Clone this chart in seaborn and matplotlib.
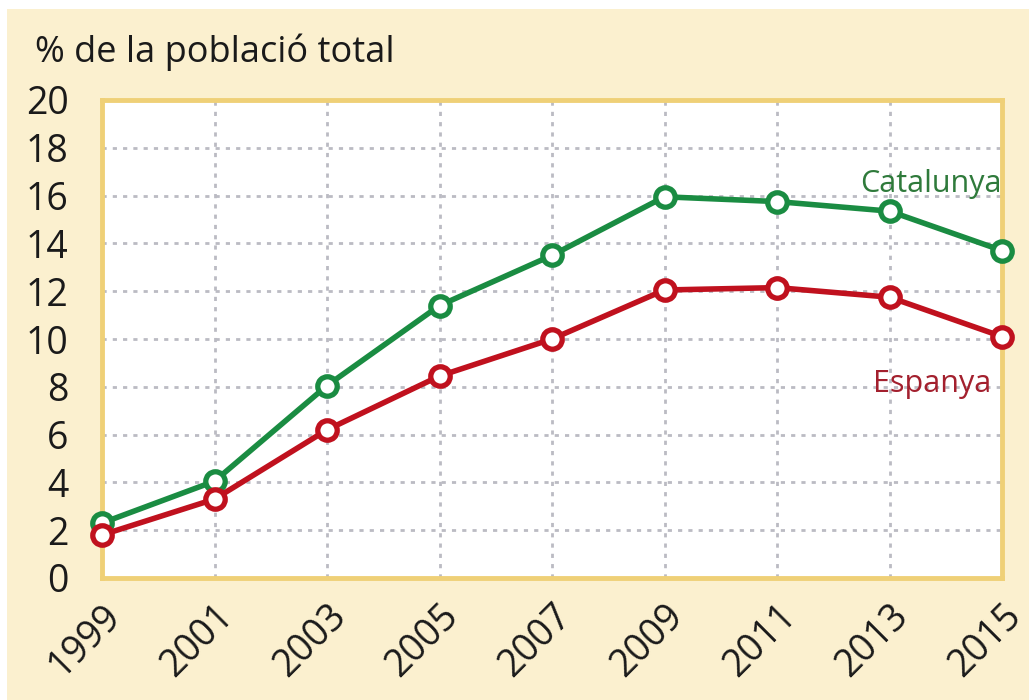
import pandas as pd
import matplotlib.pyplot as plt
import seaborn as sns
from matplotlib.patches import Rectangle

# Data (% de la població total)
years = [1999, 2001, 2003, 2005, 2007, 2009, 2011, 2013, 2015]
catalunya = [2.3, 4.05, 8.05, 11.4, 13.5, 15.95, 15.75, 15.35, 13.7]
espanya = [1.8, 3.3, 6.2, 8.45, 10.0, 12.05, 12.15, 11.75, 10.1]
regions = ["Catalunya", "Espanya"]
yticks = list(range(0, 21, 2))

CREAM = "#FBF0CF"
GOLD = "#EFD077"
GREEN = "#1A8C42"
RED = "#C0111E"

df = pd.DataFrame({
    "year": years * 2,
    "pct": catalunya + espanya,
    "region": [regions[0]] * len(years) + [regions[1]] * len(years),
})

sns.set_style("white")
plt.rcParams["font.family"] = ["Open Sans", "DejaVu Sans"]

fig = plt.figure(figsize=(10.29, 7.0), dpi=100)
fig.patch.set_facecolor("white")
# cream panel behind everything
fig.patches.append(Rectangle((7 / 1029, 0), 1, 691 / 700, transform=fig.transFigure,
                             facecolor=CREAM, edgecolor="none", zorder=-5))

ax = fig.add_axes([102 / 1029, 122 / 700, 900 / 1029, 478 / 700])
ax.set_facecolor("white")

sns.lineplot(data=df, x="year", y="pct", hue="region", palette=[GREEN, RED],
             linewidth=4, marker="o", markersize=14, markerfacecolor="white",
             markeredgewidth=3.8, legend=False, ax=ax, zorder=3)
# marker edges follow line colours
for line, c in zip(ax.get_lines(), [GREEN, RED]):
    line.set_markeredgecolor(c)
    line.set_clip_on(False)

ax.set_xlim(years[0], years[-1])
ax.set_ylim(0, 20)
ax.set_xticks(years)
ax.set_yticks(yticks)
ax.set_xlabel("")
ax.set_ylabel("")

ax.grid(True, color="#BBBBC3", linestyle=(0, (1.5, 2.2)), linewidth=2)
for s in ax.spines.values():
    s.set_color(GOLD)
    s.set_linewidth(3.5)
    s.set_zorder(2)

ax.tick_params(axis="both", colors=GOLD, length=12, width=3.5, direction="out",
               labelcolor="#1a1a1a", labelsize=27)
ax.tick_params(axis="y", pad=12)
ax.tick_params(axis="x", pad=2)
for lab in ax.get_xticklabels():
    lab.set_rotation(45)
    lab.set_ha("right")
    lab.set_va("top")
    lab.set_rotation_mode("anchor")

fig.text(35 / 1029, 1 - 62 / 700, "% de la població total", fontsize=26,
         color="#1a1a1a", ha="left", va="baseline")

ax.text(2015, 16.15, "Catalunya", color="#2F7A3B", fontsize=22, ha="right", va="baseline")
ax.text(2014.8, 7.8, "Espanya", color="#A3202E", fontsize=22, ha="right", va="baseline")

fig.savefig("out.png", dpi=100, facecolor=fig.get_facecolor())
